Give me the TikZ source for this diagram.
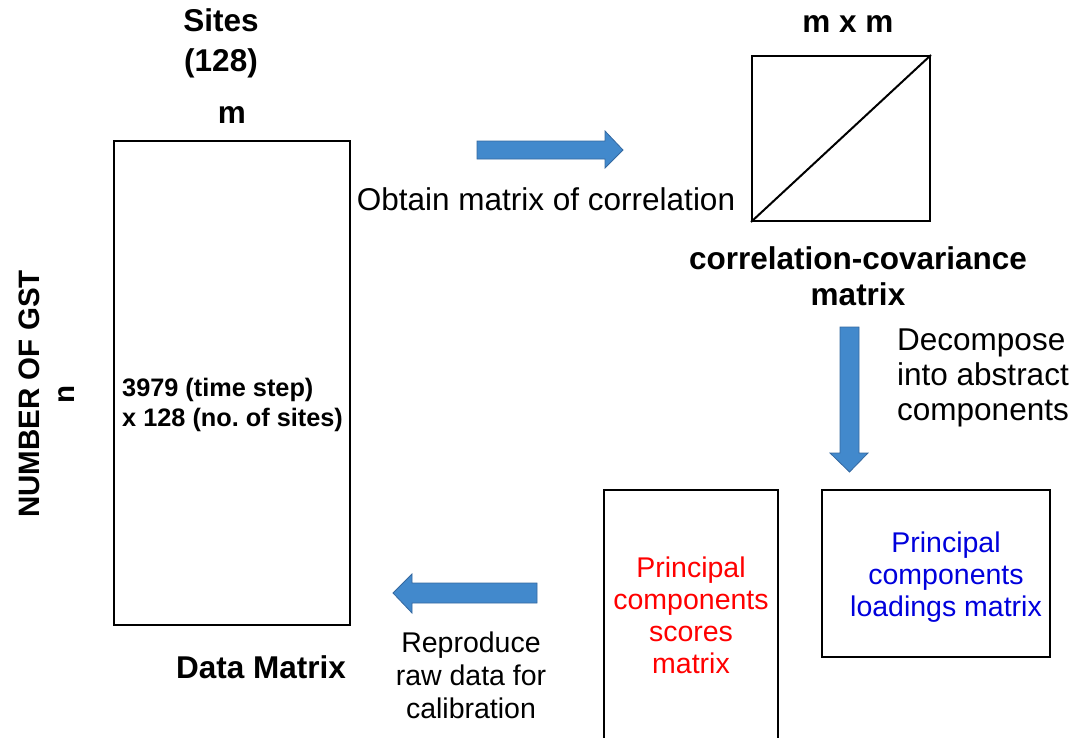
\documentclass[tikz,border=0pt]{standalone}
\usepackage{fontspec}
\setmainfont{Liberation Sans}
\frenchspacing
\begin{document}
\begin{tikzpicture}[x=1pt,y=-1pt,
  box/.style={draw=black,line width=2pt,inner sep=0pt},
  blockarrow/.style={fill={rgb,255:red,66;green,137;blue,204},draw={rgb,255:red,52;green,104;blue,160},line width=0.8pt},
  bigbold/.style={font=\fontsize{31.5}{40}\selectfont\bfseries,inner sep=0pt},
  bigtxt/.style={font=\fontsize{31.5}{35}\selectfont,inner sep=0pt},
  midtxt/.style={font=\fontsize{28.5}{32}\selectfont,inner sep=0pt,align=center},
  smallbold/.style={font=\fontsize{25.3}{30}\selectfont\bfseries,inner sep=0pt,align=left}
]
\useasboundingbox (0,0) rectangle (1073,737);
% Data matrix
\node[box,minimum width=236pt,minimum height=484pt] (data) at (232,383) {};
\node[smallbold,anchor=west] (datatxt) at (122,405) {3979 (time step)\\x 128 (no. of sites)};
\node[bigbold,align=center] (sites) at (221,43) {Sites\\(128)};
\node[bigbold] (m) at (232,115) {m};
\node[bigbold] (dm) at (261,667) {Data Matrix};
\node[font=\fontsize{29.5}{35}\selectfont\bfseries,inner sep=0pt,rotate=90,align=center] (gst) at (47,394) {NUMBER OF GST\\n};
% correlation square
\node[box,minimum width=178pt,minimum height=165pt] (corr) at (841,138.5) {};
\draw[line width=2pt] (corr.south west) -- (corr.north east);
\node[bigbold] (mxm) at (848,24) {m x m};
\node[bigbold,align=center,font=\fontsize{31.5}{36}\selectfont\bfseries] (cc) at (858,276) {correlation-covariance\\matrix};
% arrows
\draw[blockarrow] (477,141) -- (605,141) -- (605,131) -- (623,150) -- (605,168) -- (605,159) -- (477,159) -- cycle;
\node[bigtxt] (obt) at (546,199) {Obtain matrix of correlation};
\draw[blockarrow] (840,327) -- (859,327) -- (859,453) -- (868,453) -- (849.5,472) -- (830,453) -- (840,453) -- cycle;
\node[bigtxt,anchor=west,align=left] (dec) at (897,378) {Decompose\\into abstract\\components};
\draw[blockarrow] (537,583) -- (412,583) -- (412,574) -- (393,593) -- (412,613) -- (412,603) -- (537,603) -- cycle;
\node[midtxt,font=\fontsize{28.5}{33}\selectfont] (rep) at (471,675) {Reproduce\\raw data for\\calibration};
% scores & loadings
\draw[box] (604,490) rectangle (778,770);
\node[midtxt,text={rgb,255:red,255;green,0;blue,0}] (scores) at (691,615) {Principal\\components\\scores\\matrix};
\node[box,minimum width=228pt,minimum height=167pt] (load) at (936,573.5) {};
\node[midtxt,text={rgb,255:red,0;green,0;blue,220}] (loadtxt) at (946,577) {Principal\\components\\loadings matrix};
\end{tikzpicture}
\end{document}
